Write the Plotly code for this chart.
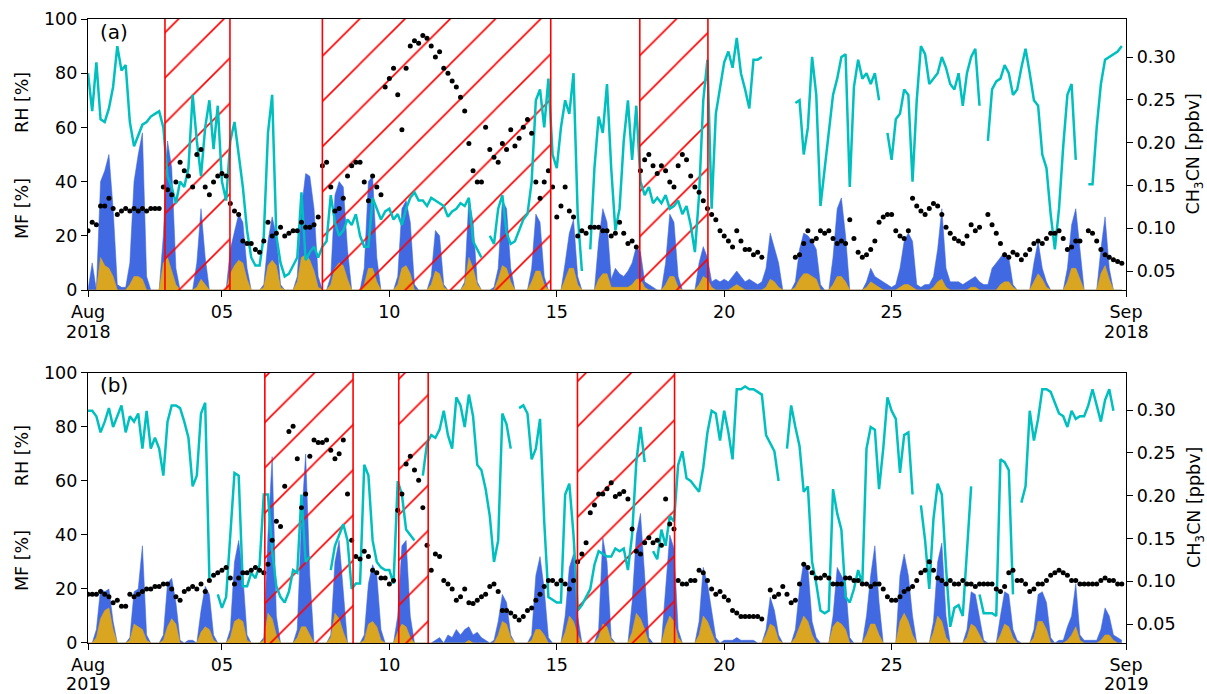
import pandas as pd
import plotly.graph_objects as go

# ---------------- Panel (a): August 2018, 3-hourly values (8 per day) ----------------
rh_2018 = [
    80, 66, 84, 63, 62, 67, 75, 90,
    81, 83, 62, 53, 57, 61, 62, 64,
    65, 66, 60, 42, 38, 32, 40, 38,
    45, 72, 55, 42, 60, 70, 52, 68,
    40, 33, 55, 62, 50, 38, 22, 12,
    9, 9, 20, 58, 72, 20, 10, 5,
    6, 9, 12, 36, 11, 14, 16, 12,
    16, 18, 35, 25, 20, 22, 26, 24,
    28, 20, 16, 16, 34, 30, 26, 29,
    30, 26, 28, 24, 30, 34, 36, 33,
    33, 31, 34, 33, 32, 31, 27, 29,
    30, 32, 31, 34, 18, 15, 12, None,
    20, 17, 30, 35, 21, 17, 18, 22,
    26, 28, 40, 70, 74, 60, 78, 50,
    45, 60, 70, 65, 80, 28, 7, None,
    15, 45, 64, 58, 76, 45, 22, 30,
    55, 70, 48, 68, 40, 35, 38, 32,
    34, 32, 35, 30, 31, 33, 28, 31,
    24, 14, 35, 70, 85, 30, 65, 75,
    84, 88, 82, 93, 80, 74, 67, 85,
    85, 86, None, None, None, None, None, None,
    None, 69, 70, 50, 60, 86, 72, 31,
    45, 60, 72, 78, 86, 87, 38, 75,
    85, 78, 80, 76, 80, 70, None, 58,
    48, 63, 65, 74, 72, 40, 70, 90,
    87, 76, 78, 80, 86, 82, 76, 74,
    80, 68, 80, 86, 89, 68, None, 55,
    74, 77, 78, 83, 80, 72, 74, 82,
    89, 80, 70, 68, 50, 45, 28, 15,
    30, 53, 72, 76, 48, None, None, 39,
    39, 60, 76, 85, 86, 87, 88, 90,
]

ch3cn_2018 = [
    0.097, 0.107, 0.104, 0.126, 0.126, 0.135, 0.123, 0.116,
    0.120, 0.123, 0.120, 0.123, 0.120, 0.123, 0.120, 0.123,
    0.123, 0.123, 0.148, 0.145, 0.139, 0.154, 0.177, 0.167,
    0.161, 0.148, 0.186, 0.192, 0.148, 0.139, 0.154, 0.161,
    0.164, 0.161, 0.129, 0.120, 0.116, 0.085, 0.082, 0.082,
    0.075, 0.072, 0.085, 0.107, 0.091, 0.094, 0.101, 0.091,
    0.094, 0.097, 0.097, 0.107, 0.101, 0.101, 0.104, 0.113,
    0.173, 0.177, 0.148, 0.120, 0.123, 0.135, 0.161, 0.173,
    0.177, 0.177, 0.154, 0.132, 0.161, 0.148, 0.139, 0.265,
    0.275, 0.287, 0.256, 0.215, 0.287, 0.313, 0.319, 0.316,
    0.325, 0.322, 0.313, 0.300, 0.306, 0.287, 0.281, 0.272,
    0.265, 0.253, 0.237, 0.199, 0.167, 0.154, 0.154, 0.218,
    0.192, 0.183, 0.177, 0.199, 0.192, 0.215, 0.196, 0.205,
    0.218, 0.227, 0.211, 0.154, 0.135, 0.154, 0.167, 0.148,
    0.113, 0.126, 0.148, 0.120, 0.113, 0.091, 0.097, 0.094,
    0.101, 0.101, 0.101, 0.097, 0.097, 0.091, 0.094, 0.107,
    0.094, 0.082, 0.085, 0.078, 0.167, 0.180, 0.186, 0.173,
    0.164, 0.173, 0.167, 0.154, 0.148, 0.173, 0.186, 0.180,
    0.161, 0.148, 0.142, 0.132, 0.123, 0.116, 0.110, 0.097,
    0.091, 0.085, 0.078, 0.097, 0.085, 0.075, 0.075, 0.069,
    0.072, 0.066, None, None, None, None, None, None,
    None, 0.066, 0.069, 0.082, 0.097, 0.085, 0.088, 0.097,
    0.094, 0.097, 0.088, 0.082, 0.085, 0.082, 0.110, 0.088,
    0.072, 0.066, 0.069, 0.075, 0.085, 0.107, 0.113, 0.116,
    0.116, 0.097, 0.091, 0.088, 0.097, 0.135, 0.126, 0.120,
    0.116, 0.123, 0.129, 0.126, 0.116, 0.101, 0.094, 0.088,
    0.085, 0.082, 0.091, 0.104, 0.097, 0.101, None, 0.116,
    0.104, 0.094, 0.082, 0.069, 0.066, 0.072, 0.069, 0.063,
    0.069, 0.075, 0.082, 0.085, 0.082, 0.088, 0.094, 0.094,
    0.097, 0.088, 0.075, 0.078, 0.085, 0.085, None, 0.097,
    0.094, 0.085, 0.075, 0.069, 0.066, 0.063, 0.061, 0.059,
]

mf_blue_2018 = [
    0, 10, 0, 40, 44, 50, 30, 2,
    1, 1, 10, 40, 50, 58, 5, 0,
    0, 0, 20, 55, 45, 8, 0, 0,
    0, 0, 10, 30, 12, 0, 0, 0,
    0, 0, 15, 22, 28, 25, 8, 0,
    0, 0, 2, 18, 27, 20, 2, 0,
    0, 0, 5, 30, 43, 42, 30, 5,
    0, 0, 5, 35, 40, 38, 15, 0,
    0, 0, 8, 40, 42, 12, 0, 0,
    0, 0, 5, 30, 33, 25, 2, 0,
    0, 0, 5, 22, 20, 2, 0, 0,
    0, 0, 3, 34, 25, 3, 0, 0,
    0, 1, 8, 33, 30, 8, 0, 0,
    0, 0, 8, 28, 25, 5, 0, 0,
    0, 0, 10, 21, 26, 5, 0, 0,
    0, 0, 18, 30, 25, 4, 8, 6,
    5, 7, 10, 16, 14, 3, 2, 1,
    0, 0, 10, 28, 25, 5, 0, 0,
    0, 0, 10, 16, 12, 3, 4, 3,
    4, 3, 5, 7, 5, 3, 4, 3,
    2, 3, 8, 21, 15, 10, 0, 0,
    0, 3, 15, 21, 20, 18, 15, 2,
    0, 0, 12, 30, 34, 20, 0, 0,
    0, 0, 3, 8, 5, 4, 3, 2,
    1, 2, 8, 18, 21, 18, 2, 1,
    2, 2, 5, 15, 30, 8, 3, 3,
    3, 2, 3, 4, 5, 3, 2, 2,
    8, 10, 12, 14, 12, 2, 0, 0,
    0, 0, 10, 18, 8, 3, 0, 0,
    0, 0, 8, 24, 30, 15, 0, 0,
    0, 0, 15, 27, 8, 0, 0, 0,
]

mf_gold_2018 = [
    0, 0, 0, 12, 9, 8, 5, 0,
    0, 0, 2, 5, 5, 4, 0, 0,
    0, 0, 10, 12, 7, 2, 0, 0,
    0, 0, 1, 4, 2, 0, 0, 0,
    0, 0, 6, 9, 11, 10, 4, 0,
    0, 0, 1, 9, 11, 9, 1, 0,
    0, 0, 3, 12, 13, 11, 7, 1,
    0, 0, 2, 8, 10, 9, 4, 0,
    0, 0, 2, 8, 8, 3, 0, 0,
    0, 0, 2, 8, 9, 6, 0, 0,
    0, 0, 2, 7, 6, 1, 0, 0,
    0, 0, 2, 12, 8, 2, 0, 0,
    0, 0, 4, 9, 8, 3, 0, 0,
    0, 0, 3, 7, 7, 2, 0, 0,
    0, 0, 4, 8, 8, 2, 0, 0,
    0, 0, 4, 6, 6, 1, 1, 1,
    1, 1, 2, 4, 4, 1, 0, 0,
    0, 0, 2, 5, 5, 1, 0, 0,
    0, 0, 2, 5, 4, 1, 0, 0,
    0, 0, 1, 2, 1, 0, 0, 0,
    0, 0, 1, 4, 3, 1, 0, 0,
    0, 1, 4, 6, 6, 5, 4, 0,
    0, 0, 2, 5, 5, 3, 0, 0,
    0, 0, 1, 3, 2, 1, 0, 0,
    0, 0, 1, 2, 2, 1, 0, 0,
    0, 0, 1, 3, 4, 1, 0, 0,
    0, 0, 0, 1, 1, 0, 0, 0,
    0, 0, 2, 3, 3, 1, 0, 0,
    0, 0, 3, 6, 4, 1, 0, 0,
    0, 0, 3, 8, 8, 4, 0, 0,
    0, 0, 6, 9, 4, 0, 0, 0,
]

hatch_2018 = [
    ("2018-08-03 07:10", "2018-08-05 05:45"),
    ("2018-08-08 00:00", "2018-08-14 19:40"),
    ("2018-08-17 11:30", "2018-08-19 12:20"),
]

# ---------------- Panel (b): August 2019, 3-hourly values (8 per day) ----------------
rh_2019 = [
    86, 86, 84, 78, 82, 87, 80, 84,
    88, 78, 84, 82, 85, 72, 86, 72,
    76, 72, 62, 82, 88, 88, 87, 82,
    76, 58, 62, 85, 89, 24, None, 18,
    13, 17, 40, 63, 62, 21, 21, 26,
    24, 29, 55, 55, 34, 21, 17, 15,
    19, 27, 26, 55, 30, 32, None, None,
    None, None, 27, 36, 40, 44, 38, 20,
    22, 22, 66, 62, 38, 30, 28, 27,
    27, 22, 60, 55, 42, 40, 38, None,
    62, 74, 77, 76, 79, 86, 77, 72,
    91, 88, 80, 92, 84, 66, 64, 57,
    47, 30, 38, 85, 81, 72, None, 87,
    88, 85, 68, 72, 83, 45, 17, 16,
    15, 15, 55, 59, 40, 12, 14, 17,
    20, 29, 34, 33, 32, 32, 35, 34,
    35, 27, 40, 67, 80, 67, None, 34,
    31, 42, 36, 47, 45, 66, 71, 61,
    60, 58, 56, 65, 78, 86, 85, 75,
    86, 78, 68, 94, 94, 95, 94, 94,
    93, 92, 77, 74, 71, 60, None, 72,
    88, 80, 73, 56, 58, 30, 22, 12,
    11, 12, 57, 48, 42, 17, 15, 20,
    27, 22, 72, 80, 79, 57, 72, 91,
    86, 83, 63, 77, 78, 55, None, 51,
    38, 20, 46, 59, 55, 28, 6, 13,
    14, 10, 32, 58, None, 18, 11, 11,
    11, 10, 68, 67, 64, 18, None, 52,
    58, 86, 75, 83, 94, 94, 93, 89,
    85, 84, 80, 86, 83, 84, 84, 88,
    94, 88, 82, 90, 94, 86, None, 90,
]

ch3cn_2019 = [
    0.085, 0.085, 0.085, 0.088, 0.085, 0.082, 0.075, 0.078,
    0.071, 0.071, 0.085, 0.082, 0.085, 0.088, 0.091, 0.091,
    0.094, 0.094, 0.097, 0.097, 0.091, 0.082, 0.078, 0.088,
    0.091, 0.094, 0.091, 0.097, 0.088, 0.101, 0.107, 0.110,
    0.113, 0.116, 0.104, 0.097, 0.104, 0.110, 0.110, 0.113,
    0.116, 0.113, 0.110, 0.120, 0.148, 0.170, 0.164, 0.211,
    0.275, 0.281, 0.243, 0.186, 0.202, 0.246, 0.265, 0.262,
    0.262, 0.265, 0.253, 0.243, 0.249, 0.265, 0.202, 0.148,
    0.129, 0.126, 0.135, 0.129, 0.113, 0.110, 0.104, 0.104,
    0.097, 0.101, 0.183, 0.202, 0.237, 0.246, 0.230, 0.218,
    0.186, 0.142, 0.113, 0.132, 0.129, 0.101, 0.097, 0.091,
    0.078, 0.082, 0.091, 0.075, 0.074, 0.078, 0.082, 0.085,
    0.094, 0.097, 0.088, 0.066, 0.066, 0.063, 0.059, 0.055,
    0.059, 0.066, 0.069, 0.078, 0.085, 0.094, 0.101, 0.101,
    0.097, 0.101, 0.097, 0.091, 0.101, 0.123, 0.132, 0.145,
    0.180, 0.189, 0.202, 0.202, 0.208, 0.215, 0.199, 0.202,
    0.205, 0.196, 0.161, 0.135, 0.132, 0.145, 0.151, 0.145,
    0.148, 0.142, 0.196, 0.167, 0.161, 0.101, 0.097, 0.097,
    0.101, 0.101, 0.113, 0.110, 0.101, 0.091, 0.085, 0.088,
    0.082, 0.078, 0.066, 0.063, 0.059, 0.059, 0.059, 0.059,
    0.059, 0.056, None, 0.090, 0.082, 0.085, 0.094, 0.085,
    0.075, 0.078, 0.097, 0.120, 0.116, 0.110, 0.104, 0.104,
    0.107, 0.104, 0.097, 0.097, 0.097, 0.104, 0.104, 0.101,
    0.101, 0.097, 0.097, 0.094, 0.097, 0.097, 0.091, 0.082,
    0.078, 0.078, 0.082, 0.088, 0.091, 0.094, 0.101, 0.110,
    0.113, 0.123, 0.113, 0.104, 0.101, 0.097, 0.101, 0.097,
    0.097, 0.101, 0.097, 0.097, 0.094, 0.097, 0.097, 0.097,
    0.097, 0.091, 0.088, 0.094, 0.110, 0.113, 0.101, 0.101,
    0.097, 0.088, 0.091, 0.097, 0.097, 0.101, 0.107, 0.110,
    0.113, 0.110, 0.107, 0.101, 0.101, 0.097, 0.097, 0.097,
    0.097, 0.097, 0.101, 0.104, 0.101, 0.101, 0.097, 0.097,
]

mf_blue_2019 = [
    0, 0, 5, 20, 19, 20, 8, 0,
    0, 0, 2, 19, 20, 36, 3, 0,
    0, 0, 3, 22, 24, 15, 1, 0,
    1, 1, 0, 12, 21, 18, 3, 0,
    0, 0, 5, 30, 38, 25, 3, 0,
    0, 0, 2, 40, 69, 10, 0, 0,
    0, 0, 5, 45, 70, 25, 0, 0,
    0, 0, 3, 30, 38, 20, 0, 0,
    0, 0, 3, 22, 29, 25, 5, 0,
    0, 0, 10, 36, 38, 10, 0, 0,
    0, 0, 0, 1, 2, 0, 3, 2,
    5, 3, 5, 6, 3, 4, 2, 1,
    0, 1, 8, 18, 15, 3, 0, 0,
    0, 0, 3, 25, 32, 20, 2, 0,
    0, 0, 10, 28, 33, 10, 0, 0,
    0, 0, 5, 39, 30, 2, 0, 0,
    0, 0, 15, 40, 48, 25, 2, 0,
    0, 0, 20, 40, 35, 5, 0, 0,
    0, 0, 8, 28, 22, 12, 2, 0,
    1, 1, 1, 2, 1, 1, 1, 1,
    0, 0, 5, 17, 12, 3, 0, 0,
    0, 5, 20, 30, 28, 8, 2, 0,
    0, 0, 10, 28, 25, 22, 2, 0,
    0, 0, 10, 25, 36, 15, 0, 0,
    0, 0, 25, 33, 25, 10, 0, 0,
    0, 0, 8, 30, 37, 10, 0, 0,
    0, 0, 5, 19, 18, 10, 1, 0,
    0, 0, 10, 19, 18, 5, 1, 0,
    0, 0, 5, 18, 19, 15, 2, 0,
    1, 1, 6, 10, 22, 3, 1, 1,
    1, 1, 5, 13, 10, 3, 2, 1,
]

mf_gold_2019 = [
    0, 0, 2, 9, 12, 13, 5, 0,
    0, 0, 1, 7, 6, 5, 1, 0,
    0, 0, 1, 6, 9, 7, 0, 0,
    0, 0, 0, 4, 6, 5, 1, 0,
    0, 0, 2, 8, 9, 8, 1, 0,
    0, 0, 1, 11, 9, 3, 0, 0,
    0, 0, 2, 6, 6, 3, 0, 0,
    0, 0, 2, 11, 9, 4, 0, 0,
    0, 0, 1, 7, 8, 6, 1, 0,
    0, 0, 4, 7, 6, 2, 0, 0,
    0, 0, 0, 0, 0, 0, 0, 0,
    0, 0, 0, 1, 0, 0, 0, 0,
    0, 0, 3, 8, 7, 2, 0, 0,
    0, 0, 1, 5, 5, 3, 0, 0,
    0, 0, 4, 10, 8, 3, 0, 0,
    0, 0, 2, 7, 6, 1, 0, 0,
    0, 0, 4, 11, 9, 5, 0, 0,
    0, 0, 6, 10, 8, 2, 0, 0,
    0, 0, 3, 10, 8, 4, 0, 0,
    0, 0, 0, 0, 0, 0, 0, 0,
    0, 0, 3, 7, 6, 1, 0, 0,
    0, 2, 6, 10, 8, 3, 0, 0,
    0, 0, 6, 8, 7, 5, 0, 0,
    0, 0, 3, 7, 7, 3, 0, 0,
    0, 0, 8, 11, 8, 3, 0, 0,
    0, 0, 4, 10, 8, 2, 0, 0,
    0, 0, 2, 7, 6, 3, 0, 0,
    0, 0, 3, 7, 6, 2, 0, 0,
    0, 0, 2, 8, 8, 5, 0, 0,
    0, 0, 1, 3, 6, 1, 0, 0,
    0, 0, 1, 3, 3, 1, 0, 0,
]

hatch_2019 = [
    ("2019-08-06 06:45", "2019-08-08 22:00"),
    ("2019-08-10 06:45", "2019-08-11 03:50"),
    ("2019-08-15 14:50", "2019-08-18 12:25"),
]

x_tick_days = ["08-01", "08-05", "08-10", "08-15", "08-20", "08-25", "09-01"]
x_tick_text = ["Aug", "05", "10", "15", "20", "25", "Sep"]
year_labels_2018 = [("2018-08-01", "2018"), ("2018-09-01", "2018")]
year_labels_2019 = [("2019-08-01", "2019"), ("2019-09-01", "2019")]
left_ticks = [0, 20, 40, 60, 80, 100]
right_ticks = [0.05, 0.10, 0.15, 0.20, 0.25, 0.30]

FONT = "DejaVu Sans"
CYAN = "#00BFBF"

fig = go.Figure()
shapes = []


def add_panel(year, rh, ch3cn, blue, gold, hatch, xa, yl, yh, yr):
    t = pd.date_range(f"{year}-08-01", periods=len(rh), freq="3h")
    fig.add_trace(go.Scatter(x=t, y=blue, xaxis=xa, yaxis=yl, mode="lines",
                             fill="tozeroy", fillcolor="royalblue",
                             line=dict(color="rgba(65,105,225,0.55)", width=1),
                             hoverinfo="skip", showlegend=False))
    fig.add_trace(go.Scatter(x=t, y=gold, xaxis=xa, yaxis=yl, mode="lines",
                             fill="tozeroy", fillcolor="goldenrod",
                             line=dict(color="rgba(218,165,32,0.6)", width=1),
                             hoverinfo="skip", showlegend=False))
    starts = pd.to_datetime([s for s, e in hatch])
    ends = pd.to_datetime([e for s, e in hatch])
    centers = starts + (ends - starts) / 2
    widths = [(e - s).total_seconds() * 1000 for s, e in zip(starts, ends)]
    fig.add_trace(go.Bar(x=centers, y=[100] * len(hatch), base=0, width=widths,
                         xaxis=xa, yaxis=yh,
                         marker=dict(color="rgba(0,0,0,0)",
                                     line=dict(width=0),
                                     pattern=dict(shape="/", fgcolor="red",
                                                  fgopacity=1,
                                                  bgcolor="rgba(0,0,0,0)",
                                                  size=32, solidity=0.05,
                                                  fillmode="overlay")),
                         hoverinfo="skip", showlegend=False))
    for edge in list(starts) + list(ends):
        shapes.append(dict(type="line", xref=xa, yref=f"{yl} domain",
                           x0=edge, x1=edge, y0=0, y1=1,
                           line=dict(color="red", width=1.6), layer="above"))
    fig.add_trace(go.Scatter(x=t, y=rh, xaxis=xa, yaxis=yh, mode="lines",
                             line=dict(color=CYAN, width=2.5),
                             hoverinfo="skip", showlegend=False))
    fig.add_trace(go.Scatter(x=t, y=ch3cn, xaxis=xa, yaxis=yr, mode="markers",
                             marker=dict(color="black", size=5),
                             hoverinfo="skip", showlegend=False))


add_panel(2018, rh_2018, ch3cn_2018, mf_blue_2018, mf_gold_2018, hatch_2018,
          "x", "y", "y2", "y3")
add_panel(2019, rh_2019, ch3cn_2019, mf_blue_2019, mf_gold_2019, hatch_2019,
          "x2", "y4", "y5", "y6")

tickfont = dict(family=FONT, size=17.5, color="black")
dom_a = [0.5657, 1.0]
dom_b = [0.0, 0.4327]


def xaxis_def(year, anchor):
    return dict(range=[f"{year}-08-01", f"{year}-09-01"], anchor=anchor,
                tickvals=[f"{year}-{d}" for d in x_tick_days], ticktext=x_tick_text,
                ticks="outside", ticklen=6, tickwidth=1.3, tickcolor="black",
                showline=True, linecolor="black", linewidth=1.3, mirror=True,
                showgrid=False, zeroline=False, tickfont=tickfont,
                automargin=False, layer="above traces")


def yleft_def(domain, anchor):
    return dict(domain=domain, range=[0, 100], anchor=anchor, tickvals=left_ticks,
                ticks="outside", ticklen=6, tickwidth=1.3, tickcolor="black",
                showline=True, linecolor="black", linewidth=1.3,
                showgrid=False, zeroline=False, tickfont=tickfont,
                automargin=False)


def yright_def(over, anchor, rng):
    return dict(overlaying=over, side="right", anchor=anchor, range=rng,
                tickvals=right_ticks, ticktext=[f"{v:.2f}" for v in right_ticks],
                ticks="outside", ticklen=6, tickwidth=1.3, tickcolor="black",
                showline=True, linecolor="black", linewidth=1.3,
                showgrid=False, zeroline=False, tickfont=tickfont,
                automargin=False)


def yhidden_def(over, anchor):
    return dict(overlaying=over, anchor=anchor, range=[0, 100], visible=False,
                showgrid=False, zeroline=False, automargin=False)


fig.update_layout(
    template="none",
    width=1207, height=694,
    margin=dict(l=88, r=81, t=19, b=51, autoexpand=False),
    paper_bgcolor="white", plot_bgcolor="white",
    showlegend=False, barmode="overlay",
    font=dict(family=FONT, color="black"),
    xaxis=xaxis_def(2018, "y"),
    yaxis=yleft_def(dom_a, "x"),
    yaxis2=yhidden_def("y", "x"),
    yaxis3=yright_def("y", "x", [0.0278, 0.3444]),
    xaxis2=xaxis_def(2019, "y4"),
    yaxis4=yleft_def(dom_b, "x2"),
    yaxis5=yhidden_def("y4", "x2"),
    yaxis6=yright_def("y4", "x2", [0.028, 0.3432]),
    shapes=shapes,
)

lab = dict(family=FONT, size=17.5, color="black")
annots = [
    dict(text="(a)", x=0.0096, y=0.979, xanchor="left", yanchor="middle",
         font=dict(family=FONT, size=20, color="black")),
    dict(text="(b)", x=0.0096, y=0.4135, xanchor="left", yanchor="middle",
         font=dict(family=FONT, size=20, color="black")),
    dict(text="RH [%]", x=-0.0636, y=0.867, textangle=-90, font=lab),
    dict(text="MF [%]", x=-0.0636, y=0.697, textangle=-90, font=lab),
    dict(text="RH [%]", x=-0.0636, y=0.301, textangle=-90, font=lab),
    dict(text="MF [%]", x=-0.0636, y=0.133, textangle=-90, font=lab),
    dict(text="CH<sub>3</sub>CN [ppbv]", x=1.0665, y=0.7828, textangle=-90, font=lab),
    dict(text="CH<sub>3</sub>CN [ppbv]", x=1.0665, y=0.2163, textangle=-90, font=lab),
]
for a in annots:
    a.update(xref="paper", yref="paper", showarrow=False)
    a.setdefault("xanchor", "center")
    a.setdefault("yanchor", "middle")
# second line of the first/last date tick labels (year)
for (d, txt) in year_labels_2018:
    annots.append(dict(text=txt, x=d, xref="x", y=0.4984, yref="paper",
                       showarrow=False, xanchor="center", yanchor="middle", font=lab))
for (d, txt) in year_labels_2019:
    annots.append(dict(text=txt, x=d, xref="x2", y=-0.0657, yref="paper",
                       showarrow=False, xanchor="center", yanchor="middle", font=lab))
fig.update_layout(annotations=annots)

fig.write_html(
    "out.html",
    config={"displayModeBar": False},
    post_script="document.body.style.margin='0';document.body.style.overflow='hidden';",
)
